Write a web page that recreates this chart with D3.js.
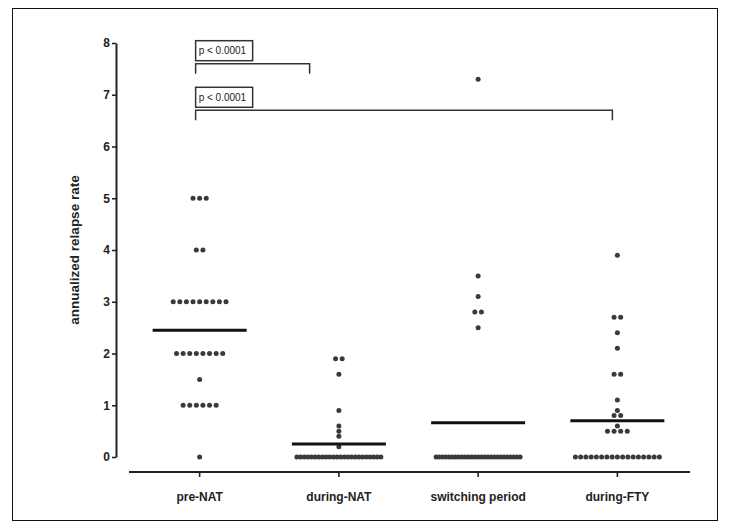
<!DOCTYPE html>
<html>
<head>
<meta charset="utf-8">
<script src="https://cdn.jsdelivr.net/npm/d3@7"></script>
<style>
  html, body { margin: 0; padding: 0; background: #fff; }
  svg { display: block; }
  text { font-family: "Liberation Sans", Arial, sans-serif; }
</style>
</head>
<body>
<svg id="chart" width="730" height="529"></svg>
<script>
// ---- data ----
const categories = ["pre-NAT", "during-NAT", "switching period", "during-FTY"];
const preNAT = [5,5,5, 4,4, 3,3,3,3,3,3,3,3,3, 2,2,2,2,2,2,2,2, 1.5, 1,1,1,1,1,1, 0];
const duringNAT = [1.9,1.9, 1.6, 0.9, 0.6, 0.5, 0.4, 0.2,
  0,0,0,0,0,0,0,0,0,0,0,0,0,0,0,0,0,0,0,0,0,0,0,0];
const switchingPeriod = [7.3, 3.5, 3.1, 2.8,2.8, 2.5,
  0,0,0,0,0,0,0,0,0,0,0,0,0,0,0,0,0,0,0,0,0,0,0,0,0,0,0];
const duringFTY = [3.9, 2.7,2.7, 2.4, 2.1, 1.6,1.6, 1.1, 0.9, 0.8,0.8, 0.6, 0.5,0.5,0.5,0.5,
  0,0,0,0,0,0,0,0,0,0,0,0,0,0,0,0,0];
const groupMeans = [2.45, 0.25, 0.66, 0.70];
const yTicks = [0,1,2,3,4,5,6,7,8];
const comparisons = [
  { from: "pre-NAT", toFrac: 0.79, label: "p < 0.0001", level: 7.6 },
  { from: "pre-NAT", to: "during-FTY", toOffset: -5, label: "p < 0.0001", level: 6.7 }
];

const series = [preNAT, duringNAT, switchingPeriod, duringFTY];

// ---- layout ----
const svg = d3.select("#chart");
svg.append("rect").attr("x", 12.5).attr("y", 8.5).attr("width", 705).attr("height", 512)
  .attr("fill", "none").attr("stroke", "#111").attr("stroke-width", 1);

const x = d3.scaleBand().domain(categories).range([130, 687]);
const y = d3.scaleLinear().domain([0, 8]).range([457, 43]);
const cx = c => x(c) + x.bandwidth() / 2;

// y axis
const yAxis = svg.append("g").attr("transform", "translate(116,0)")
  .call(d3.axisLeft(y).tickValues(yTicks).tickFormat(d3.format("d")).tickSize(4).tickSizeOuter(0));
yAxis.select(".domain").attr("stroke", "#222").attr("stroke-width", 2);
yAxis.selectAll(".tick line").attr("stroke", "#222").attr("stroke-width", 1.6);
yAxis.selectAll(".tick text").attr("x", -6).attr("font-size", 12).attr("font-weight", "bold")
  .attr("fill", "#222").style("font-family", "'Liberation Sans', Arial, sans-serif");

// y label
svg.append("text").attr("transform", "translate(79,250) rotate(-90)")
  .attr("text-anchor", "middle").attr("font-size", 13.5).attr("font-weight", "bold")
  .attr("fill", "#222").text("annualized relapse rate");

// x axis
const xAxisY = 472;
const xAxis = svg.append("g").attr("transform", `translate(0,${xAxisY})`)
  .call(d3.axisBottom(x).tickSize(5).tickSizeOuter(0));
xAxis.select(".domain").remove();
svg.append("line").attr("x1", x.range()[0] - 1).attr("x2", x.range()[1] + 3)
  .attr("y1", xAxisY).attr("y2", xAxisY).attr("stroke", "#222").attr("stroke-width", 2);
xAxis.selectAll(".tick line").attr("stroke", "#222").attr("stroke-width", 1.6);
xAxis.selectAll(".tick text").attr("y", 20).attr("font-size", 12).attr("font-weight", "bold")
  .attr("fill", "#222").style("font-family", "'Liberation Sans', Arial, sans-serif");

// dots: group equal values into rows, centred horizontally
const baseSpacing = 6.6, maxRowWidth = 84, r = 2.5;
series.forEach((vals, gi) => {
  const c = cx(categories[gi]);
  const rows = d3.group(vals, v => v);
  rows.forEach((arr, v) => {
    const n = arr.length;
    const sp = n > 1 ? Math.min(baseSpacing, maxRowWidth / (n - 1)) : 0;
    arr.forEach((_, i) => {
      svg.append("circle").attr("cx", c + (i - (n - 1) / 2) * sp).attr("cy", y(v))
        .attr("r", r).attr("fill", "#3a3a3a");
    });
  });
});

// mean lines
groupMeans.forEach((m, gi) => {
  const c = cx(categories[gi]);
  svg.append("line").attr("x1", c - 47).attr("x2", c + 47).attr("y1", y(m)).attr("y2", y(m))
    .attr("stroke", "#111").attr("stroke-width", 3);
});

// significance brackets
comparisons.forEach(cmp => {
  const x1 = cx(cmp.from) - 4;
  const x2 = cmp.to ? cx(cmp.to) + cmp.toOffset : x(categories[1]) + x.bandwidth() * (cmp.toFrac - 0.5);
  const ly = y(cmp.level);
  svg.append("path")
    .attr("d", `M${x1},${ly + 10}V${ly}H${x2}V${ly + 10}`)
    .attr("fill", "none").attr("stroke", "#333").attr("stroke-width", 1.5);
  svg.append("rect").attr("x", x1).attr("y", ly - 23).attr("width", 57).attr("height", 20)
    .attr("fill", "#fff").attr("stroke", "#333").attr("stroke-width", 1.5);
  svg.append("text").attr("x", x1 + 3).attr("y", ly - 9.5).attr("font-size", 10)
    .attr("fill", "#222").text(cmp.label);
});
</script>
</body>
</html>
